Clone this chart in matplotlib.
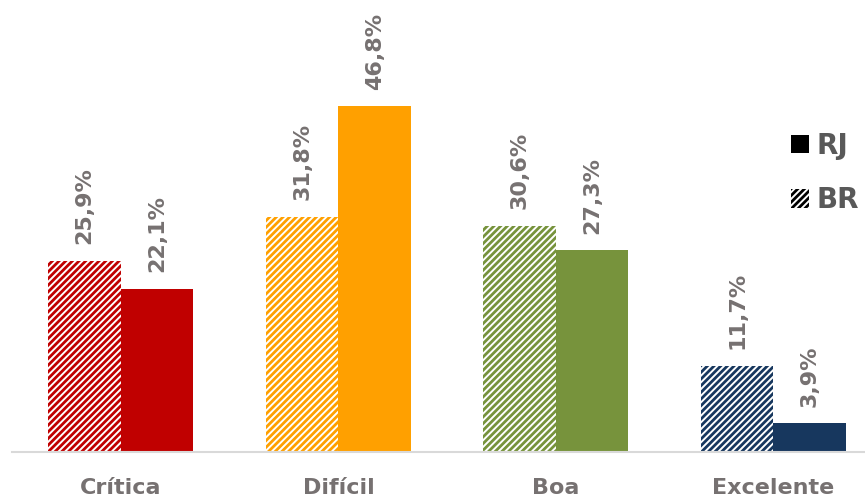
import matplotlib.pyplot as plt
from matplotlib.patches import Patch
import numpy as np

plt.rcParams['hatch.linewidth'] = 2.0

categorias = ["Crítica", "Difícil", "Boa", "Excelente"]
br = [25.9, 31.8, 30.6, 11.7]
rj = [22.1, 46.8, 27.3, 3.9]
cores = ["#C00000", "#FFA000", "#77933C", "#17375E"]

fig = plt.figure(figsize=(8.65, 4.98), dpi=100)
ax = fig.add_axes([12 / 865, 46 / 498, 853 / 865, 452 / 498])

x = np.arange(len(categorias))
w = 1 / 3
ax.bar(x - w / 2, br, w, color="white", edgecolor=cores, hatch="/////", linewidth=0)
ax.bar(x + w / 2, rj, w, color=cores, linewidth=0)

cinza = "#767171"
for xi, b, r in zip(x, br, rj):
    for xx, v in ((xi - w / 2, b), (xi + w / 2, r)):
        ax.annotate(f"{v:.1f}%".replace(".", ","), (xx, v), xytext=(0, 12),
                    textcoords="offset points", rotation=90, ha="center",
                    va="bottom", fontsize=16, fontweight="bold", color=cinza)

ax.set_xlim(-0.501, 3.421)
ax.set_ylim(0, 61.2)
ax.set_xticks(x)
ax.set_xticklabels(categorias, fontsize=16, fontweight="bold", color=cinza)
ax.tick_params(axis="x", length=0, pad=19)
ax.set_yticks([])
for s in ["top", "right", "left"]:
    ax.spines[s].set_visible(False)
ax.spines["bottom"].set_color("#D9D9D9")
ax.spines["bottom"].set_linewidth(1.5)

handles = [Patch(facecolor="black", linewidth=0),
           Patch(facecolor="white", edgecolor="black", hatch="/////", linewidth=0)]
leg = ax.legend(handles, ["RJ", "BR"], loc="upper right", bbox_to_anchor=(1.013, 0.745),
                frameon=False, handlelength=0.65, handleheight=0.65, handletextpad=0.3,
                labelspacing=0.95, borderaxespad=0.2, prop={"size": 20, "weight": "bold"})
for t in leg.get_texts():
    t.set_color("#595959")

fig.savefig("out.png", dpi=100)
